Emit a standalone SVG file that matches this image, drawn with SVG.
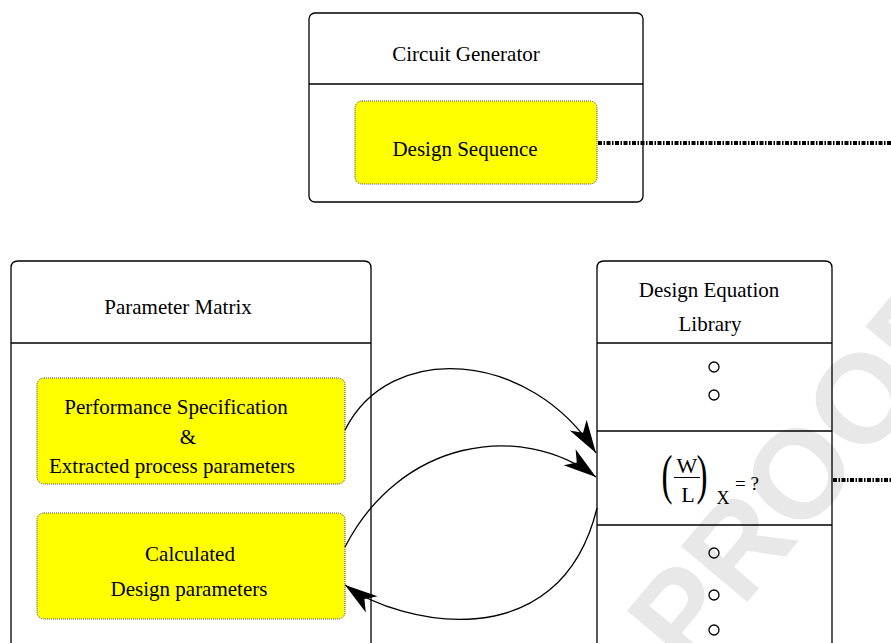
<svg xmlns="http://www.w3.org/2000/svg" width="891" height="643" viewBox="0 0 891 643">
<defs>
<style>
.box{fill:none;stroke:#000;stroke-width:1.3}
.div{stroke:#000;stroke-width:1.3}
.yel{fill:#ffff00;stroke:#444;stroke-width:1;stroke-dasharray:1,1}
.t{font-family:"Liberation Serif","Times New Roman",serif;font-size:21px;fill:#000;text-anchor:middle}
.ring{fill:none;stroke:#000;stroke-width:1.3}
.link{fill:none;stroke:#000;stroke-width:1.3}
.dash{fill:none;stroke:#000;stroke-width:4;stroke-dasharray:4,1.5,1.5,1.5}
.wm{font-family:"Liberation Sans",Arial,sans-serif;font-weight:bold;font-size:126px;fill:#e8e8e8}
</style>
<marker id="ah" viewBox="0 0 34 22" markerWidth="34" markerHeight="22" refX="33" refY="11" orient="auto" markerUnits="userSpaceOnUse">
<path d="M33,11 L0,1 L9,11 L0,21 Z" fill="#000"/>
</marker>
</defs>
<rect width="891" height="643" fill="#fff"/>
<text class="wm" transform="translate(688,673) rotate(-50)">PROOF</text>

<g id="circuit-generator">
<rect class="box" x="309" y="13" width="334" height="189" rx="6"/>
<line class="div" x1="309" y1="84" x2="643" y2="84"/>
<text class="t" x="466" y="61">Circuit Generator</text>
</g>
<g id="design-sequence">
<rect class="yel" x="355" y="101" width="242" height="83" rx="7"/>
<text class="t" x="465" y="156">Design Sequence</text>
</g>

<g id="parameter-matrix">
<path class="box" d="M11,650 V268 Q11,261 18,261 H364 Q371,261 371,268 V650"/>
<line class="div" x1="11" y1="343" x2="371" y2="343"/>
<text class="t" x="178" y="314">Parameter Matrix</text>
</g>
<g id="performance-spec">
<rect class="yel" x="37" y="378" width="308" height="106" rx="7"/>
<text class="t" x="176" y="414">Performance Specification</text>
<text class="t" x="188" y="444">&amp;</text>
<text class="t" x="172" y="473">Extracted process parameters</text>
</g>
<g id="calculated-params">
<rect class="yel" x="37" y="513" width="308" height="106" rx="7"/>
<text class="t" x="190" y="561">Calculated</text>
<text class="t" x="189" y="596">Design parameters</text>
</g>

<g id="design-equation-library">
<path class="box" d="M597,650 V268 Q597,261 604,261 H825 Q832,261 832,268 V650"/>
<line class="div" x1="597" y1="343" x2="832" y2="343"/>
<line class="div" x1="597" y1="431" x2="832" y2="431"/>
<line class="div" x1="597" y1="525" x2="832" y2="525"/>
<text class="t" x="709" y="297">Design Equation</text>
<text class="t" x="710" y="331">Library</text>
<circle class="ring" cx="714" cy="367" r="5"/>
<circle class="ring" cx="714" cy="395" r="5"/>
<circle class="ring" cx="714" cy="553" r="5"/>
<circle class="ring" cx="714" cy="595" r="5"/>
<circle class="ring" cx="714" cy="630" r="5"/>
<g id="formula">
<text class="t" x="0" y="0" style="font-size:55px" transform="translate(667,493) scale(0.6,1)">(</text>
<text class="t" x="687" y="473" style="font-size:22px">W</text>
<line x1="674" y1="477.5" x2="700" y2="477.5" stroke="#000" stroke-width="1"/>
<text class="t" x="688" y="502" style="font-size:22px">L</text>
<text class="t" x="0" y="0" style="font-size:55px" transform="translate(702,493) scale(0.6,1)">)</text>
<text class="t" x="723" y="504" style="font-size:18px">X</text>
<text class="t" x="747" y="490" style="font-size:19px">= ?</text>
</g>
</g>

<g id="connectors">
<line class="dash" x1="598" y1="143" x2="891" y2="143"/>
<line class="dash" x1="833" y1="480" x2="891" y2="480"/>
<path class="link" d="M345,430 C390,340 530,350 596,453" marker-end="url(#ah)"/>
<path class="link" d="M345,547 C400,440 520,420 596,477" marker-end="url(#ah)"/>
<path class="link" d="M597,508 C560,660 400,625 345,585" marker-end="url(#ah)"/>
</g>
</svg>
